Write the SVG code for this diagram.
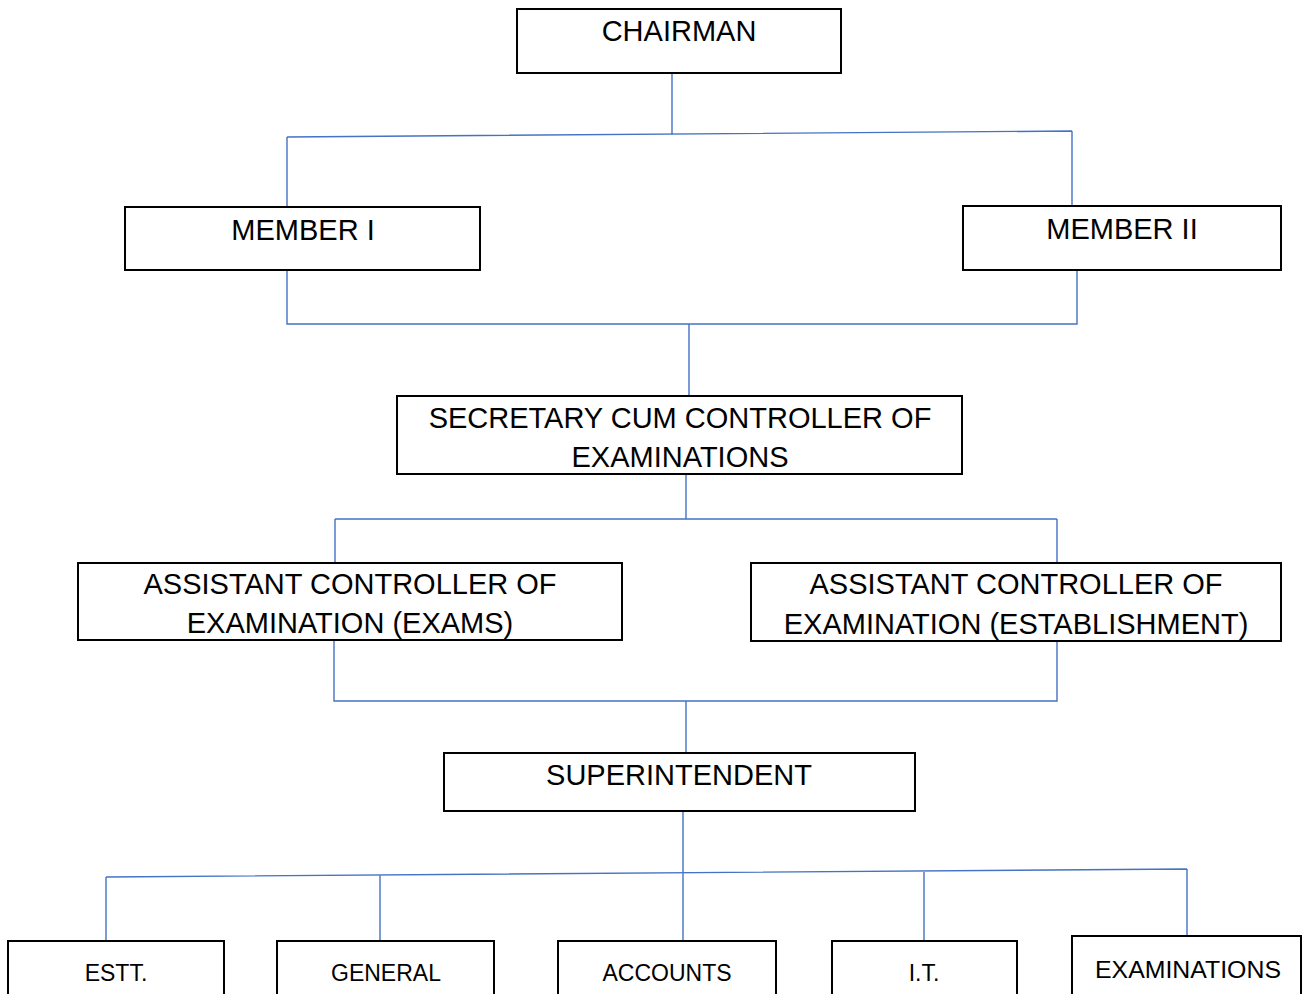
<svg xmlns="http://www.w3.org/2000/svg" width="1304" height="994" viewBox="0 0 1304 994">
<style>
.box{fill:#fff;stroke:#000;stroke-width:2}
.t{font-family:"Liberation Sans",Arial,sans-serif;font-size:29px;fill:#000;text-anchor:middle}
.s{font-family:"Liberation Sans",Arial,sans-serif;font-size:23px;fill:#000;text-anchor:middle}
.c{fill:none;stroke:#4472C4;stroke-width:1.4}
</style>
<rect width="1304" height="994" fill="#fff"/>
<g id="connectors">
<path class="c" d="M672 73 V134 M287 137 L1072 131 M287 137 V207 M1072 131 V206"/>
<path class="c" d="M287 268 V324 H1077 V270 M689 324 V396"/>
<path class="c" d="M686 474 V519 M335 519 H1057 M335 519 V563 M1057 519 V563"/>
<path class="c" d="M334 640 V701 H1057 V641 M686 701 V753"/>
<path class="c" d="M683 811 V941 M106 877 L1187 869 M106 877 V941 M380 875 V941 M924 872 V941 M1187 869 V936"/>
</g>
<g id="chairman"><rect class="box" x="517" y="9" width="324" height="64"/><text class="t" x="679" y="41">CHAIRMAN</text></g>
<g id="member1"><rect class="box" x="125" y="207" width="355" height="63"/><text class="t" x="303" y="240">MEMBER I</text></g>
<g id="member2"><rect class="box" x="963" y="206" width="318" height="64"/><text class="t" x="1122" y="239">MEMBER II</text></g>
<g id="secretary"><rect class="box" x="397" y="396" width="565" height="78"/><text class="t" x="680" y="428">SECRETARY CUM CONTROLLER OF</text><text class="t" x="680" y="467">EXAMINATIONS</text></g>
<g id="ace-exams"><rect class="box" x="78" y="563" width="544" height="77"/><text class="t" x="350" y="594">ASSISTANT CONTROLLER OF</text><text class="t" x="350" y="633">EXAMINATION (EXAMS)</text></g>
<g id="ace-estab"><rect class="box" x="751" y="563" width="530" height="78"/><text class="t" x="1016" y="594">ASSISTANT CONTROLLER OF</text><text class="t" x="1016" y="634">EXAMINATION (ESTABLISHMENT)</text></g>
<g id="superintendent"><rect class="box" x="444" y="753" width="471" height="58"/><text class="t" x="679" y="785">SUPERINTENDENT</text></g>
<g id="estt"><rect class="box" x="8" y="941" width="216" height="60"/><text class="s" x="116" y="981">ESTT.</text></g>
<g id="general"><rect class="box" x="277" y="941" width="217" height="60"/><text class="s" x="386" y="981">GENERAL</text></g>
<g id="accounts"><rect class="box" x="558" y="941" width="218" height="60"/><text class="s" x="667" y="981">ACCOUNTS</text></g>
<g id="it"><rect class="box" x="832" y="941" width="185" height="60"/><text class="s" x="924" y="981">I.T.</text></g>
<g id="examinations"><rect class="box" x="1072" y="936" width="229" height="60"/><text class="s" x="1188" y="978" textLength="186" lengthAdjust="spacingAndGlyphs">EXAMINATIONS</text></g>
</svg>
